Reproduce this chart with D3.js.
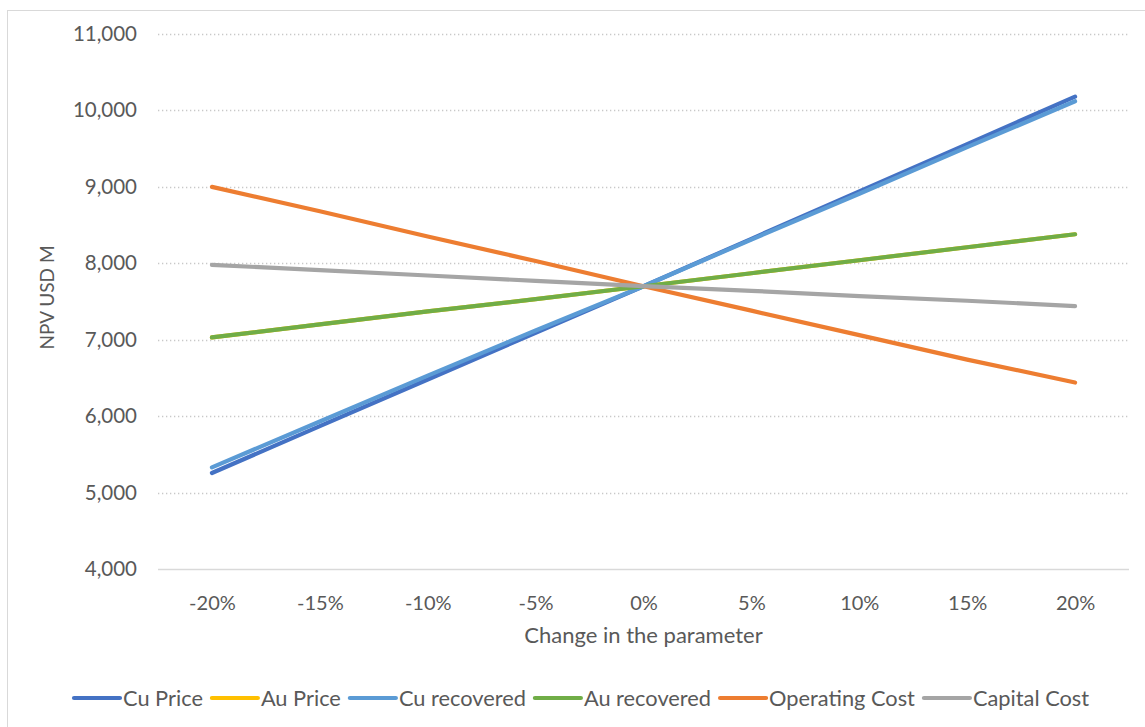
<!DOCTYPE html>
<html>
<head>
<meta charset="utf-8">
<script src="https://cdn.jsdelivr.net/npm/d3@7"></script>
<style>
  html, body { margin: 0; padding: 0; background: #fff; }
  svg { display: block; font-family: Lato, "Open Sans", sans-serif; }
</style>
</head>
<body>
<svg id="chart" width="1145" height="727"></svg>
<script>
// Sensitivity of project NPV (USD M) to changes in key parameters
const categories = ["-20%", "-15%", "-10%", "-5%", "0%", "5%", "10%", "15%", "20%"];
const seriesNames = ["Cu Price", "Au Price", "Cu recovered", "Au recovered", "Operating Cost", "Capital Cost"];
const cuPrice       = [5256, 5870, 6480, 7090, 7700, 8320, 8940, 9560, 10180];
const auPrice       = [7030, 7200, 7370, 7530, 7700, 7870, 8040, 8210, 8380];
const cuRecovered   = [5330, 5930, 6530, 7120, 7700, 8310, 8910, 9520, 10120];
const auRecovered   = [7030, 7200, 7370, 7530, 7700, 7870, 8040, 8210, 8380];
const operatingCost = [9000, 8680, 8350, 8030, 7700, 7380, 7060, 6740, 6440];
const capitalCost   = [7980, 7910, 7840, 7770, 7700, 7640, 7570, 7510, 7440];
const yTicks = [4000, 5000, 6000, 7000, 8000, 9000, 10000, 11000];
const colors = ["#4472C4", "#FFC000", "#5B9BD5", "#70AD47", "#ED7D31", "#A5A5A5"];

const seriesValues = [cuPrice, auPrice, cuRecovered, auRecovered, operatingCost, capitalCost];
const series = seriesNames.map((name, i) => ({ name, values: seriesValues[i], color: colors[i] }));

const svg = d3.select("#chart");
const textColor = "#595959";
const gridColor = "#d9d9d9";

// chart frame
svg.append("rect")
  .attr("x", 7.5).attr("y", 10.5)
  .attr("width", 1160).attr("height", 740)
  .attr("fill", "#fff").attr("stroke", gridColor).attr("stroke-width", 1);

const plot = { left: 158, right: 1129, top: 34, bottom: 569 };

const x = d3.scalePoint().domain(categories)
  .range([plot.left, plot.right]).padding(0.5);
const y = d3.scaleLinear().domain([4000, 11000]).range([plot.bottom, plot.top]);

// horizontal gridlines (dotted)
svg.append("g").selectAll("line")
  .data(yTicks.filter(t => t !== 4000))
  .join("line")
  .attr("x1", plot.left).attr("x2", plot.right)
  .attr("y1", d => Math.round(y(d)) + 0.5).attr("y2", d => Math.round(y(d)) + 0.5)
  .attr("stroke", "#c8c8c8").attr("stroke-width", 1.3)
  .attr("stroke-dasharray", "1.3,2.7");

// y axis labels
const yAxis = d3.axisLeft(y).tickValues(yTicks).tickSize(0).tickPadding(0)
  .tickFormat(d3.format(","));
const gy = svg.append("g").attr("transform", `translate(${plot.left - 21},0)`).call(yAxis);
gy.select(".domain").remove();
gy.selectAll("text")
  .attr("fill", textColor).style("font-size", "20.5px")
  .style("font-family", "Lato, 'Open Sans', sans-serif");

// x axis
const xAxis = d3.axisBottom(x).tickSize(0).tickPadding(0);
const gx = svg.append("g").attr("transform", `translate(0,${plot.bottom})`).call(xAxis);
gx.select(".domain").attr("stroke", gridColor).attr("stroke-width", 1.5)
  .attr("d", `M${plot.left},0.5H${plot.right}`);
gx.selectAll("text")
  .attr("fill", textColor).attr("dy", "0").attr("y", 41)
  .style("font-size", "20px")
  .style("font-family", "Lato, 'Open Sans', sans-serif");

// axis titles
svg.append("text")
  .attr("x", (plot.left + plot.right) / 2).attr("y", 643)
  .attr("text-anchor", "middle").attr("fill", textColor)
  .style("font-size", "22px")
  .text("Change in the parameter");

svg.append("text")
  .attr("transform", `translate(54,${(plot.top + plot.bottom) / 2 - 4}) rotate(-90)`)
  .attr("text-anchor", "middle").attr("fill", textColor)
  .style("font-size", "19px")
  .text("NPV USD M");

// lines
const line = d3.line()
  .x((d, i) => x(categories[i]))
  .y(d => y(d));

svg.append("g").selectAll("path")
  .data(series)
  .join("path")
  .attr("d", d => line(d.values))
  .attr("fill", "none")
  .attr("stroke", d => d.color)
  .attr("stroke-width", 4.2)
  .attr("stroke-linecap", "round")
  .attr("stroke-linejoin", "round");

// legend
const legend = svg.append("g").attr("transform", "translate(0,698)");
let lx = 74;
series.forEach(s => {
  const g = legend.append("g");
  g.append("line")
    .attr("x1", lx).attr("x2", lx + 46)
    .attr("y1", 0).attr("y2", 0)
    .attr("stroke", s.color).attr("stroke-width", 4.2)
    .attr("stroke-linecap", "round");
  const t = g.append("text")
    .attr("x", lx + 49).attr("y", 0).attr("dy", "0.35em")
    .attr("fill", textColor).style("font-size", "21.8px")
    .text(s.name);
  lx += 49 + t.node().getComputedTextLength() + 9;
});
</script>
</body>
</html>
